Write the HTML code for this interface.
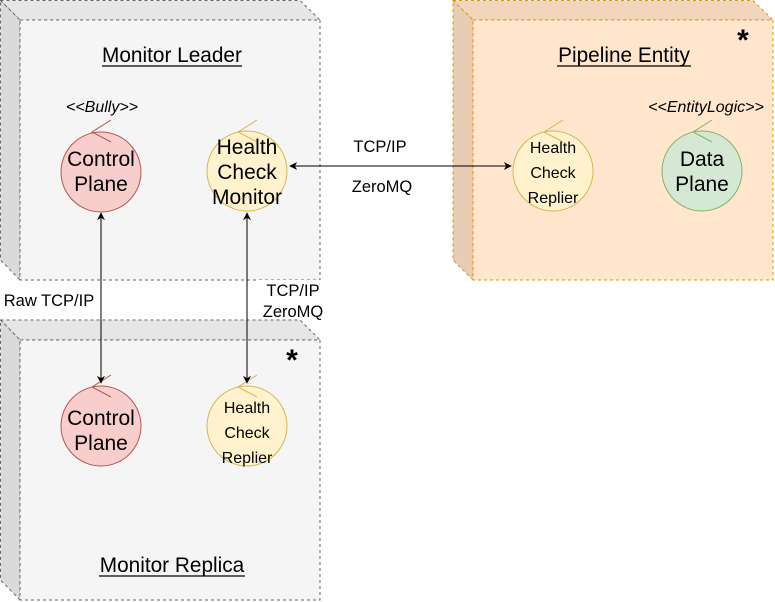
<!DOCTYPE html>
<html><head><style>
body{margin:0;background:#fff;}
svg{display:block;font-family:"Liberation Sans",Arial,sans-serif;}
</style></head><body>
<svg width="775" height="602" viewBox="0 0 775 602" xmlns="http://www.w3.org/2000/svg">
<defs>
<marker id="a" viewBox="0 0 10 10" refX="9" refY="5" markerWidth="8" markerHeight="8" orient="auto-start-reverse" markerUnits="userSpaceOnUse"><path d="M0,0 L10,5 L0,10 L3,5 z" fill="#000"/></marker>
</defs>
<g stroke="#666" stroke-dasharray="3,3" stroke-width="1">
<path d="M0.5,0.5 L300,0.5 L320,20 L20,20 Z" fill="#e6e6e6"/>
<path d="M0.5,0.5 L20,20 L20,280 L0.5,260 Z" fill="#dadada"/>
<rect x="20" y="20" width="300" height="260" fill="#f5f5f5"/>
</g>
<g stroke="#d79b00" stroke-dasharray="3,3" stroke-width="1">
<path d="M453,0.5 L753,0.5 L773,20 L473,20 Z" fill="#f1d6bd"/>
<path d="M453,0.5 L473,20 L473,280 L453,260 Z" fill="#e8cdb4"/>
<rect x="473" y="20" width="300" height="260" fill="#ffe6cc"/>
</g>
<g stroke="#666" stroke-dasharray="3,3" stroke-width="1">
<path d="M0.5,320 L300,320 L320,340 L20,340 Z" fill="#e6e6e6"/>
<path d="M0.5,320 L20,340 L20,600 L0.5,580 Z" fill="#dadada"/>
<rect x="20" y="340" width="300" height="260" fill="#f5f5f5"/>
</g>
<g font-size="20.8" text-anchor="middle" fill="#000">
<text x="172" y="62">Monitor Leader</text>
<line x1="102" y1="66" x2="242" y2="66" stroke="#000" stroke-width="1.3"/>
<text x="624" y="62">Pipeline Entity</text>
<line x1="557" y1="66" x2="691" y2="66" stroke="#000" stroke-width="1.3"/>
<text x="172" y="572">Monitor Replica</text>
<line x1="99" y1="576" x2="245" y2="576" stroke="#000" stroke-width="1.3"/>
</g>
<text x="743" y="50" font-size="30" font-weight="bold" text-anchor="middle">*</text>
<text x="292" y="370" font-size="30" font-weight="bold" text-anchor="middle">*</text>
<text x="102" y="112" font-size="16" font-style="italic" text-anchor="middle">&lt;&lt;Bully&gt;&gt;</text>
<text x="706" y="112" font-size="16" font-style="italic" text-anchor="middle">&lt;&lt;EntityLogic&gt;&gt;</text>
<g stroke-width="1">
<circle cx="101" cy="172" r="40" fill="#f8cecc" stroke="#b85450"/>
<path d="M111,120 L92,132 L111,142" fill="none" stroke="#b85450"/>
<circle cx="247" cy="171" r="40" fill="#fff2cc" stroke="#d6b656"/>
<path d="M257,120 L238,132 L257,142" fill="none" stroke="#d6b656"/>
<circle cx="553" cy="171" r="40" fill="#fff2cc" stroke="#d6b656"/>
<path d="M563,120 L544,132 L563,142" fill="none" stroke="#d6b656"/>
<circle cx="702" cy="171" r="40" fill="#d5e8d4" stroke="#82b366"/>
<path d="M712,120 L693,132 L712,142" fill="none" stroke="#82b366"/>
<circle cx="101" cy="426" r="40" fill="#f8cecc" stroke="#b85450"/>
<path d="M111,375 L92,387 L111,397" fill="none" stroke="#b85450"/>
<circle cx="247" cy="426" r="40" fill="#fff2cc" stroke="#d6b656"/>
<path d="M257,375 L238,387 L257,397" fill="none" stroke="#d6b656"/>
</g>
<g text-anchor="middle" fill="#000">
<g font-size="21">
<text x="101" y="166">Control</text><text x="101" y="191">Plane</text>
<text x="247" y="154">Health</text><text x="247" y="179">Check</text><text x="247" y="204">Monitor</text>
<text x="702" y="166">Data</text><text x="702" y="191">Plane</text>
<text x="101" y="425">Control</text><text x="101" y="450">Plane</text>
</g>
<g font-size="16">
<text x="553" y="153">Health</text><text x="553" y="178">Check</text><text x="553" y="203">Replier</text>
<text x="247" y="413">Health</text><text x="247" y="438">Check</text><text x="247" y="463">Replier</text>
</g>
</g>
<g stroke="#000" stroke-width="1" fill="none">
<line x1="290" y1="166" x2="511" y2="166" marker-start="url(#a)" marker-end="url(#a)"/>
<line x1="101" y1="213" x2="101" y2="383" marker-start="url(#a)" marker-end="url(#a)"/>
<line x1="247" y1="213" x2="247" y2="383" marker-start="url(#a)" marker-end="url(#a)"/>
</g>
<g font-size="16.5" text-anchor="middle" fill="#000">
<rect x="349" y="134" width="62" height="20" fill="#fff"/>
<text x="380" y="152">TCP/IP</text>
<text x="382" y="192">ZeroMQ</text>
<rect x="0" y="289" width="98" height="20" fill="#fff"/>
<text x="49" y="306">Raw TCP/IP</text>
<rect x="258" y="280" width="72" height="38" fill="#fff"/>
<text x="293" y="296">TCP/IP</text>
<text x="293" y="317">ZeroMQ</text>
</g>
</svg>
</body></html>
